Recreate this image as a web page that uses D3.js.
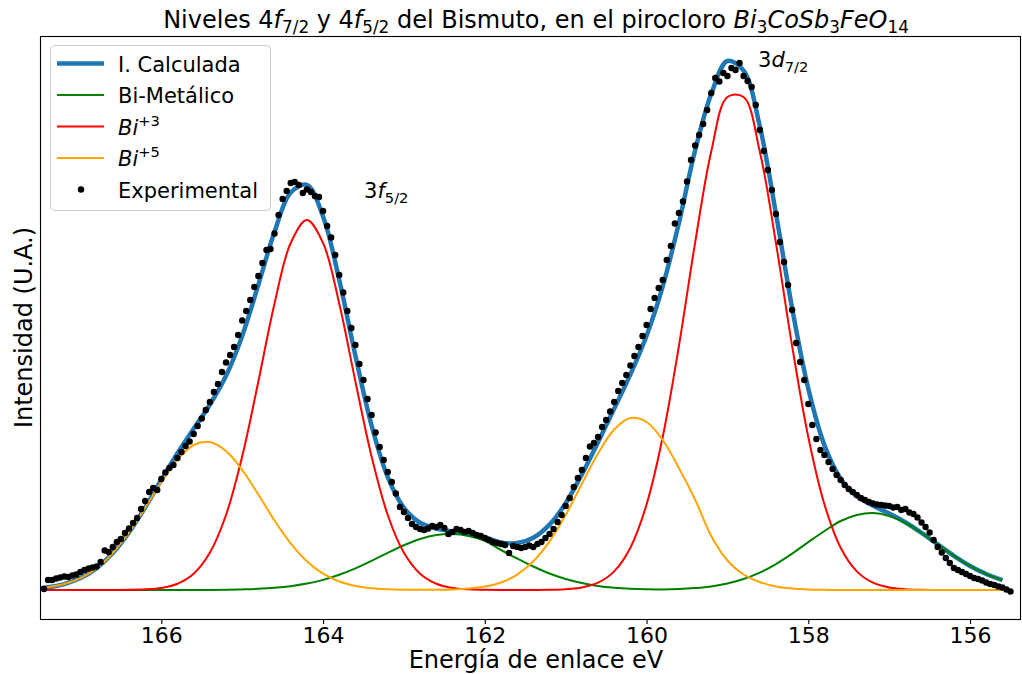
<!DOCTYPE html>
<html>
<head>
<meta charset="utf-8">
<script src="https://cdn.jsdelivr.net/npm/d3@7"></script>
<style>
  body { margin: 0; background: #fff; }
  svg text { font-family: "DejaVu Sans", sans-serif; fill: #000; }
</style>
</head>
<body>
<div id="chart"></div>
<script>
// energy grid (eV) for the fitted curves
const gridEnergy = [167.5,
                    167.4,167.2,167.0,166.8,166.6,166.4,166.2,166.0,165.8,165.6,
                    165.4,165.2,165.0,164.8,164.6,164.4,164.2,164.0,163.8,163.6,
                    163.4,163.2,163.0,162.8,162.6,162.4,162.2,162.0,161.8,161.6,
                    161.4,161.2,161.0,160.8,160.6,160.4,160.2,160.0,159.8,159.6,
                    159.4,159.2,159.0,158.8,158.6,158.4,158.2,158.0,157.8,157.6,
                    157.4,157.2,157.0,156.8,156.6,156.4,156.2,156.0,155.8,155.6];

// I. Calculada
const calcValues = [0.36,
                    0.55,1.19,2.38,4.38,7.40,11.53,16.53,22.02,27.35,32.25,
                    37.06,42.85,50.82,61.03,71.63,79.49,81.03,74.69,62.06,46.86,
                    32.90,22.58,16.44,13.45,12.29,11.72,11.21,10.56,9.51,9.38,
                    10.44,13.07,17.36,23.11,29.56,36.28,43.11,50.85,60.72,73.4,
                    87.9,99.22,105.8,103.89,92.78,75.29,56.37,40.27,28.93,22.26,
                    18.73,16.86,15.31,13.56,11.44,9.11,6.83,4.81,3.19,1.98];

// Bi-Metalico
const metValues = [0,
                   0,0,0,0,0,0,0,0,0,0,
                   0.02,0.05,0.12,0.23,0.43,0.76,1.28,2.03,3.06,4.34,
                   5.84,7.43,8.95,10.2,11.0,11.2,10.8,9.85,8.0,6.3,
                   4.7,3.3,2.2,1.4,0.8,0.45,0.25,0.15,0.12,0.2,
                   0.40,0.72,1.30,2.19,3.48,5.19,7.27,9.57,11.8,13.8,
                   15.0,15.4,14.8,13.4,11.4,9.11,6.83,4.81,3.19,1.98];

// Bi+3
const bi3Values = [0,
                   0,0,0,0,0.01,0.03,0.13,0.42,1.25,3.25,
                   7.44,15.0,26.7,41.7,57.3,69.4,74.0,69.4,57.3,41.7,
                   26.7,15.0,7.44,3.25,1.25,0.42,0.13,0.03,0,0,
                   0,0.04,0.16,0.51,1.46,3.73,8.46,17.1,30.6,48.8,
                   69.4,87.7,98.6,98.6,87.7,69.4,48.8,30.6,17.1,8.46,
                   3.73,1.46,0.51,0.16,0.04,0,0,0,0,0];

// Bi+5
const bi5Values = [0.36,
                   0.55,1.19,2.38,4.38,7.40,11.5,16.4,21.6,26.1,29.0,
                   29.6,27.8,24.0,19.1,13.9,9.33,5.75,3.26,1.70,0.82,
                   0.36,0.15,0.05,0.03,0.04,0.10,0.28,0.68,1.51,3.08,
                   5.74,9.73,15.0,21.2,27.3,32.1,34.4,33.6,30.0,24.4,
                   18.1,10.8,5.9,3.1,1.6,0.7,0.3,0.1,0.03,0,
                   0,0,0,0,0,0,0,0,0,0];

// experimental points
const expEnergy = [167.45,167.40,167.35,167.30,167.25,167.20,167.15,167.10,167.05,167.00,
                   166.95,166.90,166.85,166.80,166.75,166.70,166.65,166.60,166.55,166.50,
                   166.45,166.40,166.35,166.30,166.25,166.20,166.15,166.10,166.05,166.00,
                   165.95,165.90,165.85,165.80,165.75,165.70,165.65,165.60,165.55,165.50,
                   165.45,165.40,165.35,165.30,165.25,165.20,165.15,165.10,165.05,165.00,
                   164.95,164.90,164.85,164.80,164.75,164.70,164.65,164.60,164.55,164.50,
                   164.45,164.40,164.35,164.30,164.25,164.20,164.15,164.10,164.05,164.00,
                   163.95,163.90,163.85,163.80,163.75,163.70,163.65,163.60,163.55,163.50,
                   163.45,163.40,163.35,163.30,163.25,163.20,163.15,163.10,163.05,163.00,
                   162.95,162.90,162.85,162.80,162.75,162.70,162.65,162.60,162.55,162.50,
                   162.45,162.40,162.35,162.30,162.25,162.20,162.15,162.10,162.05,162.00,
                   161.95,161.90,161.85,161.80,161.75,161.70,161.65,161.60,161.55,161.50,
                   161.45,161.40,161.35,161.30,161.25,161.20,161.15,161.10,161.05,161.00,
                   160.95,160.90,160.85,160.80,160.75,160.70,160.65,160.60,160.55,160.50,
                   160.45,160.40,160.35,160.30,160.25,160.20,160.15,160.10,160.05,160.00,
                   159.95,159.90,159.85,159.80,159.75,159.70,159.65,159.60,159.55,159.50,
                   159.45,159.40,159.35,159.30,159.25,159.20,159.15,159.10,159.05,159.00,
                   158.95,158.90,158.85,158.80,158.75,158.70,158.65,158.60,158.55,158.50,
                   158.45,158.40,158.35,158.30,158.25,158.20,158.15,158.10,158.05,158.00,
                   157.95,157.90,157.85,157.80,157.75,157.70,157.65,157.60,157.55,157.50,
                   157.45,157.40,157.35,157.30,157.25,157.20,157.15,157.10,157.05,157.00,
                   156.95,156.90,156.85,156.80,156.75,156.70,156.65,156.60,156.55,156.50,
                   156.45,156.40,156.35,156.30,156.25,156.20,156.15,156.10,156.05,156.00,
                   155.95,155.90,155.85,155.80,155.75,155.70,155.65,155.60,155.55,155.50];

const expValues = [0.2,2.0,2.0,2.3,2.5,2.7,2.6,2.9,3.1,3.6,
                   4.0,4.3,4.5,4.7,5.6,7.9,7.6,8.6,9.6,10.2,
                   11.4,12.3,13.4,14.4,16.2,17.8,19.6,20.4,20.0,22.2,
                   23.5,24.4,25.0,26.4,27.6,28.8,29.7,31.2,32.8,34.3,
                   36.0,37.6,39.6,41.2,43.6,45.5,47.0,48.6,51.0,53.9,
                   55.8,58.0,60.6,62.8,65.4,68.0,68.2,71.3,75.0,78.2,
                   79.8,81.4,81.6,81.0,79.4,80.1,79.6,78.8,78.6,75.8,
                   72.8,70.5,67.0,63.0,59.5,55.8,52.4,49.0,45.2,42.0,
                   38.2,35.0,31.5,28.6,26.0,23.6,21.6,19.3,16.6,15.6,
                   14.4,13.2,12.6,12.2,12.0,12.3,12.8,12.6,13.0,12.4,
                   11.2,11.6,12.2,12.0,11.6,11.8,11.4,11.0,10.8,10.4,
                   10.0,9.6,9.4,9.2,9.0,7.4,8.8,8.6,8.4,8.6,
                   8.9,8.6,9.2,9.6,10.4,11.2,12.2,13.6,15.0,16.8,
                   18.4,20.6,22.4,24.0,26.4,28.7,29.4,30.6,32.6,34.0,
                   35.7,37.6,39.8,41.4,43.0,44.9,46.8,48.6,50.8,53.0,
                   56.2,58.4,60.4,62.0,66.0,68.8,73.3,75.4,77.7,81.7,
                   86.0,88.9,91.0,93.2,96.0,99.4,102.4,101.7,103.4,102.8,
                   104.4,104.0,105.4,102.8,101.8,100.6,97.0,92.0,87.8,84.0,
                   80.0,75.2,69.6,65.6,61.0,56.0,49.4,45.6,42.0,37.2,
                   33.0,30.2,28.0,27.0,25.6,24.2,23.0,22.0,21.0,20.2,
                   19.6,19.0,18.4,18.0,17.6,17.3,17.1,17.0,16.9,16.8,
                   16.5,16.6,16.0,16.2,15.5,15.2,14.5,13.5,12.6,11.5,
                   10.0,8.6,7.5,6.4,5.4,4.4,4.0,3.6,3.2,2.8,
                   2.4,2.2,1.9,1.5,1.2,1.0,0.7,0.5,0.1,-0.3];

const xTicks = [166, 164, 162, 160, 158, 156];

drawChart();

// writes text made of normal / italic / sub / sup pieces
function richText(sel, parts, fs) {
    let shift = 0;
    parts.forEach(p => {
        const target = p.sub ? fs * 0.22 : (p.sup ? -fs * 0.42 : 0);
        const ts = sel.append("tspan").text(p.t).attr("dy", target - shift);
        shift = target;
        if (p.it) ts.style("font-style", "italic");
        if (p.sub || p.sup) ts.attr("font-size", fs * 0.7);
    });
}

function drawChart(){
    const W = 1022, H = 674;
    const left = 40, right = 1021, top = 36, bottom = 619;

    const svg = d3.select("#chart").append("svg")
        .attr("width", W).attr("height", H);

    const xScale = d3.scaleLinear().domain([167.5, 155.37]).range([left, right]);
    const yScale = d3.scaleLinear().domain([-5.8, 110.8]).range([bottom, top]);

    svg.append("clipPath").attr("id", "plotClip")
        .append("rect").attr("x", left).attr("y", top)
        .attr("width", right - left).attr("height", bottom - top);

    const plot = svg.append("g").attr("clip-path", "url(#plotClip)");

    const line = d3.line()
        .x(d => xScale(d[0]))
        .y(d => yScale(d[1]))
        .curve(d3.curveCatmullRom.alpha(0.5));

    const series = [
        {name: "calc", vals: calcValues, color: "#1f77b4", w: 4.5},
        {name: "met",  vals: metValues,  color: "green",   w: 2},
        {name: "bi3",  vals: bi3Values,  color: "red",     w: 2},
        {name: "bi5",  vals: bi5Values,  color: "orange",  w: 2}
    ];
    series.forEach(s => {
        plot.append("path")
            .datum(gridEnergy.map((e, i) => [e, s.vals[i]]))
            .attr("fill", "none")
            .attr("stroke", s.color)
            .attr("stroke-width", s.w)
            .attr("d", line);
    });

    // experimental points
    plot.selectAll(".dot")
        .data(expEnergy.map((e, i) => [e, expValues[i]]))
        .join("circle")
        .attr("class", "dot")
        .attr("cx", d => xScale(d[0]))
        .attr("cy", d => yScale(d[1]))
        .attr("r", 3.2)
        .attr("fill", "black");

    // x axis
    const xAxis = svg.append("g")
        .attr("transform", `translate(0,${bottom})`)
        .call(d3.axisBottom(xScale).tickValues(xTicks).tickSize(5).tickPadding(3.5).tickSizeOuter(0));
    xAxis.select(".domain").remove();
    xAxis.selectAll("line").attr("stroke", "#000").attr("stroke-width", 1.1);
    xAxis.selectAll("text").attr("font-size", 22).attr("font-family", "DejaVu Sans").attr("fill", "#000");

    // frame
    svg.append("rect")
        .attr("x", left + 0.5).attr("y", top + 0.5)
        .attr("width", right - left - 1).attr("height", bottom - top)
        .attr("fill", "none").attr("stroke", "#000").attr("stroke-width", 1.1);

    // axis labels
    svg.append("text")
        .attr("x", 536).attr("y", 668)
        .attr("text-anchor", "middle").attr("font-size", 24)
        .text("Energía de enlace eV");

    svg.append("text")
        .attr("transform", `translate(32,${(top + bottom) / 2}) rotate(-90)`)
        .attr("text-anchor", "middle").attr("font-size", 24)
        .text("Intensidad (U.A.)");

    // title
    const title = svg.append("text")
        .attr("x", 536).attr("y", 28)
        .attr("text-anchor", "middle").attr("font-size", 24);
    richText(title, [
        {t: "Niveles 4"}, {t: "f", it: true}, {t: "7/2", sub: true},
        {t: " y 4"}, {t: "f", it: true}, {t: "5/2", sub: true},
        {t: " del Bismuto, en el pirocloro "},
        {t: "Bi", it: true}, {t: "3", sub: true},
        {t: "CoSb", it: true}, {t: "3", sub: true},
        {t: "FeO", it: true}, {t: "14", sub: true}
    ], 24);

    // peak annotations
    const a1 = svg.append("text").attr("x", 364).attr("y", 198).attr("font-size", 21);
    richText(a1, [{t: "3"}, {t: "f", it: true}, {t: "5/2", sub: true}], 21);
    const a2 = svg.append("text").attr("x", 758).attr("y", 67).attr("font-size", 21);
    richText(a2, [{t: "3"}, {t: "d", it: true}, {t: "7/2", sub: true}], 21);

    // legend
    const leg = svg.append("g");
    leg.append("rect")
        .attr("x", 50.5).attr("y", 45.5).attr("width", 220).attr("height", 165)
        .attr("rx", 4).attr("fill", "white").attr("fill-opacity", 0.8)
        .attr("stroke", "#cccccc").attr("stroke-width", 1);

    const legItems = [
        {parts: [{t: "I. Calculada"}], color: "#1f77b4", w: 4.5},
        {parts: [{t: "Bi-Metálico"}], color: "green", w: 2},
        {parts: [{t: "Bi", it: true}, {t: "+3", sup: true}], color: "red", w: 2},
        {parts: [{t: "Bi", it: true}, {t: "+5", sup: true}], color: "orange", w: 2},
        {parts: [{t: "Experimental"}], dot: true}
    ];
    legItems.forEach((it, i) => {
        const yy = 63.5 + i * 31.5;
        if (it.dot) {
            leg.append("circle").attr("cx", 81).attr("cy", yy).attr("r", 3.2).attr("fill", "black");
        } else {
            leg.append("line").attr("x1", 57).attr("x2", 104).attr("y1", yy).attr("y2", yy)
                .attr("stroke", it.color).attr("stroke-width", it.w);
        }
        const t = leg.append("text").attr("x", 118).attr("y", yy + 8).attr("font-size", 21);
        richText(t, it.parts, 21);
    });
}
</script>
</body>
</html>
